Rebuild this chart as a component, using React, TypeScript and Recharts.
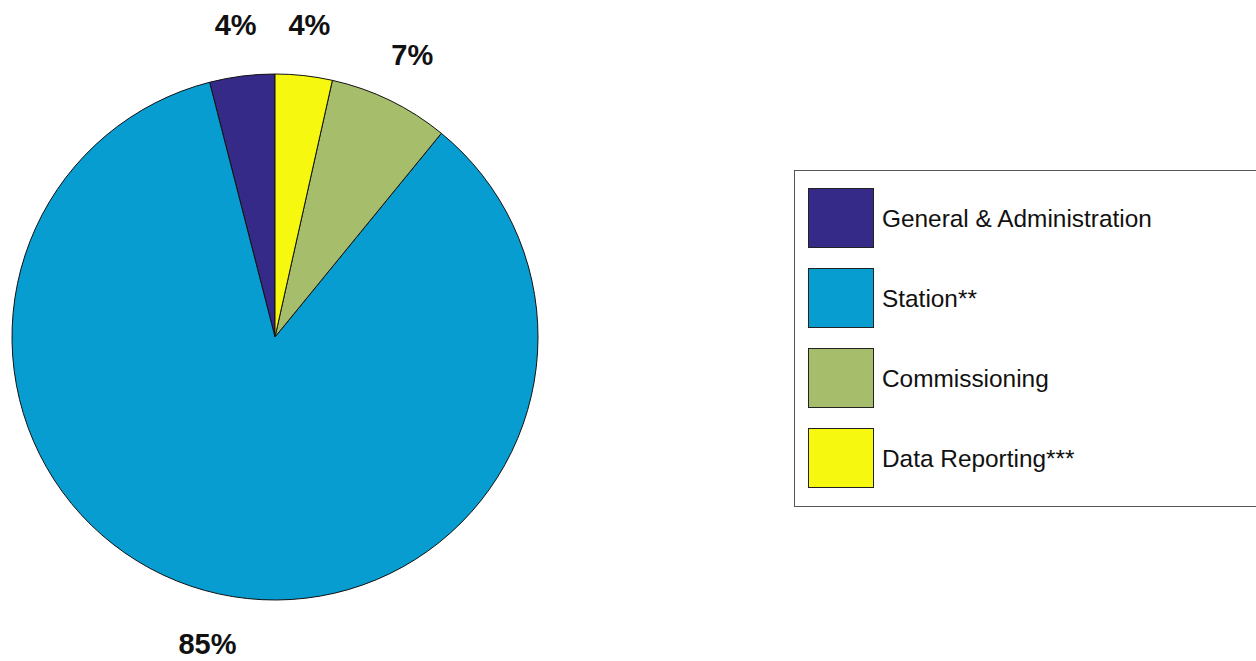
import React from 'react';
import { PieChart, Pie, Cell, Legend } from 'recharts';

const categories = ['General & Administration', 'Station**', 'Commissioning', 'Data Reporting***'];
const shares = [4.0, 85.1, 7.4, 3.5];
const pctLabels = ['4%', '85%', '7%', '4%'];
const colors = ['#352A87', '#079DD1', '#A6BE6B', '#F6F80F'];

const data = categories.map((name, i) => ({ name, value: shares[i], label: pctLabels[i], color: colors[i] }));

const RAD = Math.PI / 180;

const renderLabel = (props: any) => {
  const { cx, cy, midAngle, outerRadius, index } = props;
  const r = outerRadius + 51;
  const x = cx + r * Math.cos(-midAngle * RAD);
  const y = cy + r * Math.sin(-midAngle * RAD);
  return (
    <text x={x} y={y} textAnchor="middle" dominantBaseline="central" fill="#111" fontSize={29} fontWeight="bold" fontFamily="Liberation Sans, Arial, sans-serif">
      {pctLabels[index]}
    </text>
  );
};

const renderLegend = () => (
  <div style={{ position: 'absolute', left: 794, top: 170, width: 470, height: 337, border: '1px solid #555', background: '#fff', boxSizing: 'border-box' }}>
    {data.map((d, i) => (
      <div key={d.name} style={{ position: 'absolute', left: 13, top: 17 + i * 80, display: 'flex', alignItems: 'center' }}>
        <div style={{ width: 66, height: 60, background: d.color, border: '1px solid #222', boxSizing: 'border-box' }} />
        <span style={{ marginLeft: 8, marginTop: 2, fontSize: 24.4, fontFamily: 'Liberation Sans, Arial, sans-serif', color: '#111', whiteSpace: 'nowrap' }}>{d.name}</span>
      </div>
    ))}
  </div>
);

export default function App() {
  return (
    <div style={{ position: 'absolute', left: 0, top: 0, width: 1256, height: 661, background: '#fff', overflow: 'hidden' }}>
      <PieChart width={1256} height={661} margin={{ top: 0, right: 0, bottom: 0, left: 0 }}>
        <Pie
          data={data}
          dataKey="value"
          nameKey="name"
          cx={275}
          cy={337}
          outerRadius={263}
          startAngle={90}
          endAngle={450}
          stroke="#111"
          strokeWidth={1}
          label={renderLabel}
          labelLine={false}
          isAnimationActive={false}
        >
          {data.map((d) => (
            <Cell key={d.name} fill={d.color} />
          ))}
        </Pie>
        <Legend content={renderLegend} wrapperStyle={{ position: 'absolute', left: 0, top: 0, width: 0, height: 0 }} />
      </PieChart>
    </div>
  );
}
